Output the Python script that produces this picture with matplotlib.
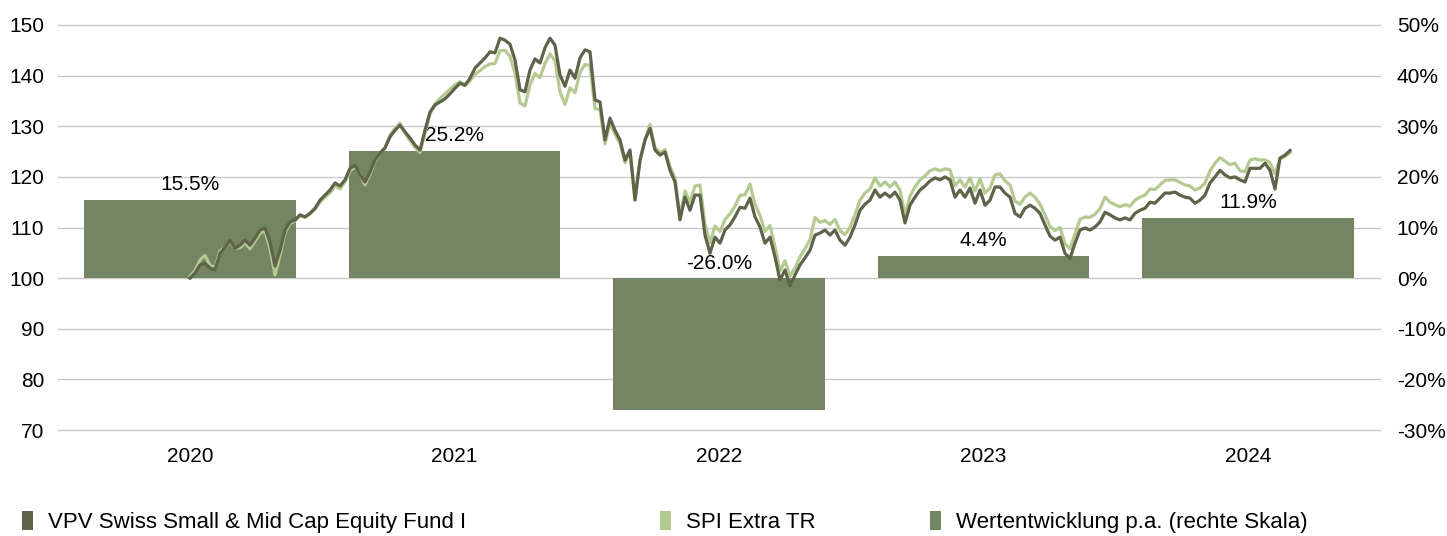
import numpy as np
import matplotlib
matplotlib.use("Agg")
import matplotlib.pyplot as plt
from matplotlib.patches import Patch

plt.rcParams['font.family'] = ['Liberation Sans', 'DejaVu Sans']

# yearly performance (right axis, %)
years = ["2020", "2021", "2022", "2023", "2024"]
perf = [15.5, 25.2, -26.0, 4.4, 11.9]
perf_labels = ["15.5%", "25.2%", "-26.0%", "4.4%", "11.9%"]

# indexed price series (left axis) at equal steps
fund = [
    100.0, 101.0, 102.6, 102.9, 102.0, 101.6, 104.9, 106.1, 107.5, 105.9,
    106.5, 107.5, 106.5, 107.9, 109.5, 109.9, 107.1, 102.4, 105.5, 109.5,
    111.1, 111.5, 112.5, 112.1, 112.8, 113.8, 115.4, 116.4, 117.4, 118.8,
    118.2, 119.4, 121.7, 122.3, 120.4, 119.0, 120.9, 123.3, 124.7, 125.7,
    127.9, 129.2, 130.2, 128.9, 127.7, 126.3, 125.3, 129.2, 132.8, 134.2,
    134.8, 135.4, 136.4, 137.5, 138.5, 138.1, 139.5, 141.5, 142.5, 143.5,
    144.7, 144.5, 147.4, 147.0, 146.2, 143.1, 137.2, 136.8, 141.1, 143.3,
    142.5, 145.5, 147.4, 146.0, 140.1, 137.9, 141.1, 139.5, 143.5, 145.1,
    144.7, 135.2, 134.8, 127.3, 131.6, 129.2, 127.3, 123.3, 125.3, 115.4,
    123.3, 127.3, 129.6, 125.3, 124.3, 124.9, 121.3, 119.0, 111.5, 116.0,
    113.4, 116.4, 116.4, 108.5, 104.9, 108.1, 106.9, 109.5, 110.5, 112.1,
    114.0, 113.8, 115.8, 112.1, 110.1, 106.9, 108.1, 104.2, 99.6, 101.6,
    98.5, 100.6, 102.6, 104.0, 105.5, 108.5, 108.9, 109.5, 108.5, 109.5,
    107.5, 106.5, 108.1, 110.5, 113.4, 114.6, 115.4, 117.4, 116.0, 116.8,
    116.0, 117.0, 115.4, 110.9, 114.4, 116.0, 117.4, 118.2, 119.2, 119.8,
    119.4, 120.0, 119.4, 116.0, 117.4, 116.0, 117.8, 114.8, 117.4, 114.4,
    115.4, 118.0, 118.0, 116.8, 116.0, 112.8, 112.1, 113.8, 114.4, 113.8,
    112.8, 110.5, 108.3, 107.5, 108.1, 104.9, 103.9, 106.9, 109.5, 109.9,
    109.5, 110.1, 111.1, 113.0, 112.5, 111.9, 111.5, 111.9, 111.5, 112.8,
    113.4, 113.8, 115.0, 114.8, 115.8, 116.8, 116.8, 117.0, 116.4, 116.0,
    115.8, 114.8, 115.4, 116.4, 118.8, 120.0, 121.3, 120.4, 119.8, 120.0,
    119.4, 119.0, 121.7, 121.7, 121.7, 122.7, 121.3, 117.6, 123.7, 124.3,
    125.2,
]

spi = [
    100.3, 101.5, 103.6, 104.5, 102.5, 102.1, 105.4, 106.1, 107.2, 105.9,
    106.0, 107.0, 105.8, 107.3, 108.8, 109.3, 105.8, 100.6, 104.5, 109.0,
    110.8, 111.3, 112.3, 112.0, 112.7, 113.6, 115.0, 116.0, 116.8, 118.3,
    117.6, 119.0, 121.2, 122.0, 120.6, 118.4, 120.5, 123.0, 124.6, 125.8,
    128.2, 129.6, 130.6, 128.6, 127.2, 125.8, 124.8, 128.6, 132.4, 134.4,
    135.5, 136.4, 137.3, 138.2, 138.8, 138.0, 139.0, 140.3, 141.0, 141.8,
    142.3, 142.4, 144.9, 145.0, 143.8, 140.5, 134.6, 134.0, 138.2, 140.4,
    139.6, 142.4, 144.3, 142.9, 136.8, 134.3, 137.6, 136.6, 140.6, 142.2,
    142.0, 133.5, 133.3, 126.5, 130.6, 128.4, 126.6, 122.8, 125.0, 115.8,
    123.2, 127.2, 130.4, 125.8, 124.8, 125.4, 122.0, 119.8, 112.3, 117.2,
    115.0, 118.2, 118.4, 110.6, 107.0, 110.3, 109.2, 111.6, 112.7, 114.2,
    116.4, 116.4, 118.6, 114.6, 112.4, 109.2, 110.4, 106.2, 101.4, 103.4,
    100.4, 102.0, 104.2, 105.8, 107.6, 112.0, 111.0, 111.4, 110.6, 111.6,
    109.4, 108.6, 110.0, 112.6, 115.4, 116.8, 117.6, 119.8, 118.2, 119.0,
    118.0, 119.0, 117.4, 112.4, 116.2, 118.0, 119.4, 120.2, 121.2, 121.6,
    121.2, 121.6, 121.4, 118.2, 119.4, 118.0, 119.8, 117.2, 119.6, 116.8,
    117.8, 120.4, 120.6, 119.2, 118.4, 115.2, 114.6, 116.0, 116.8, 116.0,
    114.6, 112.5, 110.2, 109.4, 110.0, 106.8, 105.8, 108.8, 111.6, 112.1,
    112.0, 112.6, 113.7, 116.0, 115.0, 114.5, 114.1, 114.5, 114.2, 115.4,
    116.0, 116.4, 117.6, 117.5, 118.4, 119.3, 119.4, 119.4, 118.9, 118.4,
    118.2, 117.4, 117.8, 118.8, 121.2, 122.7, 123.8, 123.1, 122.4, 122.7,
    121.2, 121.0, 123.3, 123.6, 123.3, 123.4, 122.8, 120.6, 123.6, 124.0,
    124.8,
]

c_fund = "#5f6349"
c_spi = "#b4ca91"
c_bar = "#738562"
c_grid = "#c9c9c9"
fs = 15

fig = plt.figure(figsize=(14.47, 5.36), dpi=100)
rect = [58 / 1447, 1 - 430 / 536, (1380 - 58) / 1447, (430 - 25) / 536]

# bars (right scale)
ax = fig.add_axes(rect)
xs = np.arange(len(years))
ax.bar(xs, perf, width=0.8, color=c_bar, zorder=2)
ax.set_xlim(-0.5, len(years) - 0.5)
ax.set_ylim(-30, 50)
ax.set_yticks(range(-30, 51, 10))
ax.set_yticklabels([f"{v}%" for v in range(-30, 51, 10)])
ax.yaxis.tick_right()
ax.set_xticks(xs)
ax.set_xticklabels(years)
ax.tick_params(axis="both", length=0, labelsize=fs, colors="black")
ax.tick_params(axis="x", pad=12)
ax.tick_params(axis="y", pad=12)
ax.grid(True, axis="y", color=c_grid, linewidth=1.0, zorder=0)
ax.set_axisbelow(True)
for gl in ax.get_ygridlines():
    gl.set_clip_on(False)
for s in ax.spines.values():
    s.set_visible(False)

for x, v, lab in zip(xs, perf, perf_labels):
    ax.annotate(lab, (x, max(v, 0)), xytext=(0, 4), textcoords="offset points",
                ha="center", va="bottom", fontsize=fs)

# lines (left scale)
ax2 = fig.add_axes(rect)
ax2.patch.set_visible(False)
idx = np.arange(len(fund))
ax2.plot(idx, spi, color=c_spi, linewidth=2.3, zorder=3)
ax2.plot(idx, fund, color=c_fund, linewidth=2.3, zorder=4)
ax2.set_xlim(-26.4, 238)
ax2.set_ylim(70, 150)
ax2.set_yticks(range(70, 151, 10))
ax2.set_xticks([])
ax2.tick_params(axis="y", length=0, labelsize=fs, pad=10)
for s in ax2.spines.values():
    s.set_visible(False)

# legend
entries = [("VPV Swiss Small & Mid Cap Equity Fund I", c_fund, 22),
           ("SPI Extra TR", c_spi, 660),
           ("Wertentwicklung p.a. (rechte Skala)", c_bar, 930)]
for label, col, px in entries:
    fig.legend(handles=[Patch(facecolor=col, edgecolor="none", label=label)],
               loc="center left", bbox_to_anchor=(px / 1447, 1 - 522 / 536),
               frameon=False, fontsize=16, handlelength=0.5, handleheight=0.9,
               handletextpad=0.65, borderpad=0, borderaxespad=0)

fig.savefig("out.png", dpi=100)
